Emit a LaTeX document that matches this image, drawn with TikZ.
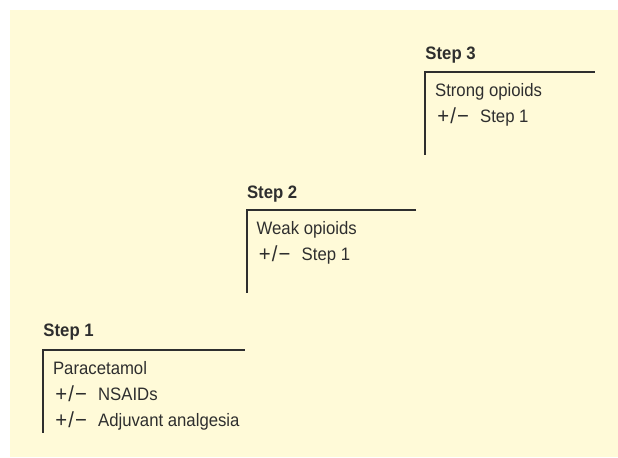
\documentclass[tikz,border=0pt]{standalone}
\usepackage{fontspec}
\setmainfont[FakeStretch=0.93]{Liberation Sans}
\usepackage{xcolor}
\usepackage{tikz}
\usetikzlibrary{positioning}
\definecolor{whoPaper}{HTML}{FFFAD8}
\definecolor{whoInk}{HTML}{2E2E2E}
\newcommand{\orplus}{\raisebox{-1pt}{\fontsize{15.5}{18}\selectfont\kern1.6pt+\kern0.8pt/\kern0.8pt−}\hspace{8pt}}

\begin{document}
\begin{tikzpicture}[
  bracket/.style={draw=none, inner sep=0pt, minimum height=2.07cm, anchor=north west},
  rule/.style={whoInk, line width=1.4pt},
  title/.style={anchor=base west, inner sep=0pt, font=\fontsize{12.8}{15}\selectfont\bfseries, text=whoInk},
  drugs/.style={anchor=north west, inner sep=0pt, align=left, font=\fontsize{12.8}{18.2}\selectfont, text=whoInk}]
  \useasboundingbox (0,0) rectangle (15.45,-11.425);
  \fill[whoPaper] (0.25,-0.25) rectangle (15.45,-11.425);
  % brackets
  \node[bracket, minimum width=5.02cm] (b1) at (1.08,-8.75) {};
  \node[bracket, minimum width=4.22cm] (b2) at (6.17,-5.25) {};
  \node[bracket, minimum width=4.22cm] (b3) at (10.63,-1.8)  {};
  \draw[rule] (b1.north east) -- (b1.north west) -- (b1.south west);
  \draw[rule] (b2.north east) -- (b2.north west) -- (b2.south west);
  \draw[rule] (b3.north east) -- (b3.north west) -- (b3.south west);
  % step titles
  \node[title] (s1) at (1.08,-8.4)   {Step 1};
  \node[title] (s2) at (6.17,-4.95)  {Step 2};
  \node[title] (s3) at (10.63,-1.475) {Step 3};
  % contents
  \node[drugs, below right=0.29cm and 0.24cm of b1.north west] (d1)
    {Paracetamol\\\orplus NSAIDs\\\orplus Adjuvant analgesia};
  \node[drugs, below right=0.29cm and 0.24cm of b2.north west] (d2)
    {Weak opioids\\\orplus Step 1};
  \node[drugs, below right=0.29cm and 0.24cm of b3.north west] (d3)
    {Strong opioids\\\orplus Step 1};
\end{tikzpicture}
\end{document}
